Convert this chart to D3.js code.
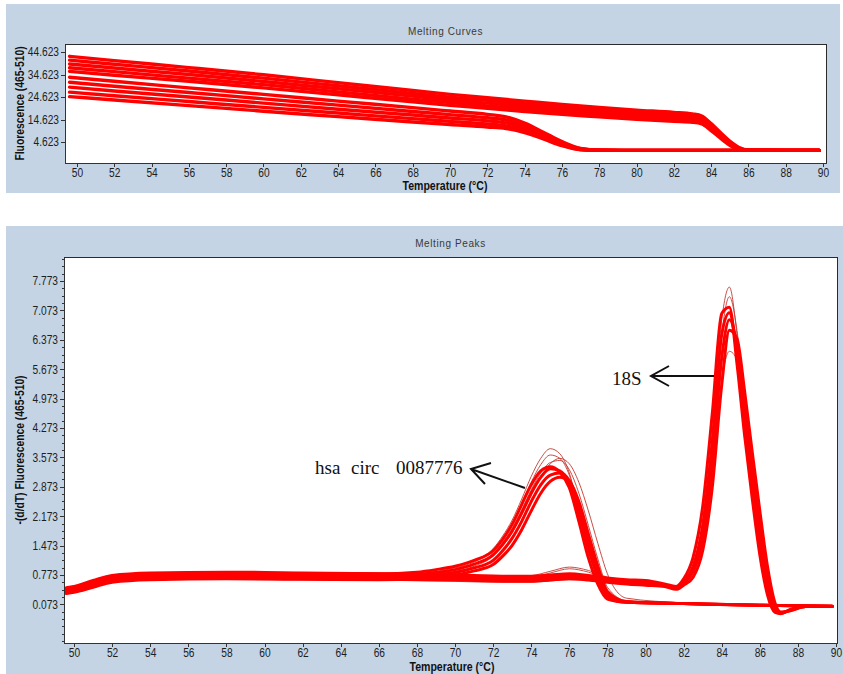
<!DOCTYPE html>
<html>
<head>
<meta charset="utf-8">
<script src="https://cdn.jsdelivr.net/npm/d3@7"></script>
<style>
  body { margin: 0; background: #fff; }
  svg { display: block; }
  .axis text { font-family: "Liberation Sans Narrow", "Arial Narrow", "Liberation Sans", sans-serif; font-size: 12px; fill: #1e1e1e; }
  .axis path, .axis line { stroke: #333; shape-rendering: crispEdges; }
  .lbl { font-family: "Liberation Sans Narrow", "Arial Narrow", "Liberation Sans", sans-serif; font-weight: bold; font-size: 12px; fill: #111; }
  .ttl { font-family: "Liberation Sans", Arial, sans-serif; font-size: 10px; fill: #3a3a3a; letter-spacing: 0.6px; }
  .note { font-family: "Liberation Serif", "Times New Roman", serif; font-size: 19px; fill: #111; }
</style>
</head>
<body>
<script>
// ---- Melting Curves (top panel) ----
const curveTicks = [4.623, 14.623, 24.623, 34.623, 44.623];
const tempTicks  = [50, 52, 54, 56, 58, 60, 62, 64, 66, 68, 70, 72, 74, 76, 78, 80, 82, 84, 86, 88, 90];

// 18S melting curves (high product Tm)
const curveTemps18S = [49.6, 52, 56, 60, 64, 68, 70, 72, 74, 76, 78, 80, 82, 83, 83.5, 84, 84.5, 85, 85.5, 86, 88, 89.8];
const curves18S = [
  [42.7, 40.8, 37.7, 34.5, 31.0, 27.5, 25.8, 24.3, 22.8, 21.3, 20.0, 18.8, 17.8, 17.1, 16.2, 12.8, 8.8, 5.0, 2.2, 1.1, 0.9, 0.9],
  [41.0, 39.2, 36.2, 33.0, 29.6, 26.2, 24.5, 23.1, 21.6, 20.2, 19.0, 17.8, 16.8, 16.2, 15.2, 11.8, 8.0, 4.4, 1.9, 1.0, 0.9, 0.9],
  [39.3, 37.5, 34.6, 31.5, 28.3, 25.0, 23.3, 21.9, 20.5, 19.1, 17.9, 16.7, 15.8, 15.2, 14.3, 11.0, 7.3, 3.9, 1.6, 1.0, 0.9, 0.9],
  [37.6, 35.9, 33.0, 30.1, 26.9, 23.7, 22.1, 20.7, 19.4, 18.0, 16.9, 15.7, 14.8, 14.3, 13.5, 10.3, 6.8, 3.5, 1.4, 0.95, 0.9, 0.9],
  [36.0, 34.3, 31.6, 28.7, 25.6, 22.5, 20.9, 19.6, 18.2, 16.9, 15.8, 14.7, 13.8, 13.4, 12.7, 9.7, 6.3, 3.2, 1.3, 0.95, 0.9, 0.9]
];

// hsa_circ_0087776 melting curves
const curveTempsCirc = [49.6, 52, 56, 60, 64, 68, 70, 72, 73, 74, 75, 76, 77, 78, 80, 89.8];
const curvesCirc = [
  [33.4, 31.6, 28.7, 25.8, 22.8, 19.9, 18.4, 16.9, 15.8, 13.0, 9.0, 4.8, 1.8, 1.0, 0.9, 0.9],
  [31.2, 29.4, 26.6, 23.8, 21.0, 18.2, 16.8, 15.4, 14.4, 11.8, 8.2, 4.3, 1.6, 1.0, 0.9, 0.9],
  [29.0, 27.3, 24.6, 21.9, 19.2, 16.6, 15.3, 14.0, 13.1, 10.8, 7.4, 3.8, 1.4, 0.95, 0.9, 0.9],
  [26.8, 25.2, 22.6, 20.0, 17.5, 15.0, 13.8, 12.6, 11.8, 9.8, 6.7, 3.4, 1.3, 0.95, 0.9, 0.9],
  [24.8, 23.3, 20.8, 18.3, 15.9, 13.5, 12.4, 11.3, 10.6, 8.8, 6.0, 3.0, 1.2, 0.95, 0.9, 0.9]
];

// ---- Melting Peaks (bottom panel) ----
const peakTicks = [0.073, 0.773, 1.473, 2.173, 2.873, 3.573, 4.273, 4.973, 5.673, 6.373, 7.073, 7.773];

const peakTempsCirc = [49.6, 50, 51, 52, 54, 58, 62, 66, 68, 69, 70, 71, 72, 72.5, 73, 73.5, 74, 74.5, 75, 75.5, 76, 76.5, 77, 77.5, 78, 79, 82, 86, 89.8];
const peaksCirc = [
  [0.45, 0.48, 0.62, 0.74, 0.80, 0.82, 0.81, 0.80, 0.84, 0.90, 0.98, 1.12, 1.35, 1.62, 1.98, 2.45, 2.92, 3.25, 3.35, 3.22, 2.85, 2.05, 1.18, 0.55, 0.20, 0.12, 0.09, 0.05, 0.03],
  [0.41, 0.44, 0.57, 0.69, 0.75, 0.77, 0.76, 0.75, 0.78, 0.83, 0.90, 1.03, 1.25, 1.50, 1.82, 2.25, 2.72, 3.10, 3.30, 3.25, 2.95, 2.25, 1.40, 0.72, 0.25, 0.12, 0.09, 0.05, 0.03],
  [0.37, 0.40, 0.52, 0.64, 0.70, 0.72, 0.71, 0.70, 0.73, 0.77, 0.83, 0.94, 1.12, 1.35, 1.65, 2.05, 2.52, 2.92, 3.15, 3.20, 3.02, 2.42, 1.60, 0.85, 0.30, 0.13, 0.09, 0.05, 0.03],
  [0.33, 0.36, 0.48, 0.60, 0.66, 0.68, 0.67, 0.66, 0.68, 0.72, 0.77, 0.87, 1.02, 1.22, 1.48, 1.85, 2.30, 2.72, 3.00, 3.10, 3.00, 2.52, 1.75, 0.98, 0.38, 0.14, 0.09, 0.05, 0.03]
];
const peaksCircOutliers = [
  [0.44, 0.47, 0.60, 0.72, 0.79, 0.81, 0.80, 0.79, 0.83, 0.89, 0.97, 1.12, 1.40, 1.70, 2.08, 2.58, 3.12, 3.55, 3.78, 3.66, 3.20, 2.30, 1.35, 0.62, 0.22, 0.12, 0.09, 0.05, 0.03],
  [0.42, 0.45, 0.58, 0.70, 0.77, 0.79, 0.78, 0.77, 0.81, 0.86, 0.94, 1.08, 1.36, 1.64, 2.00, 2.48, 2.98, 3.40, 3.63, 3.55, 3.15, 2.35, 1.45, 0.70, 0.25, 0.12, 0.09, 0.05, 0.03],
  [0.40, 0.43, 0.55, 0.67, 0.74, 0.76, 0.75, 0.74, 0.78, 0.82, 0.89, 1.02, 1.28, 1.54, 1.88, 2.32, 2.80, 3.20, 3.45, 3.50, 3.28, 2.72, 1.95, 1.15, 0.48, 0.16, 0.10, 0.05, 0.03],
  [0.38, 0.41, 0.53, 0.65, 0.72, 0.74, 0.73, 0.72, 0.76, 0.80, 0.86, 0.98, 1.22, 1.46, 1.78, 2.20, 2.68, 3.10, 3.42, 3.55, 3.42, 2.98, 2.30, 1.52, 0.80, 0.22, 0.11, 0.06, 0.03]
];

const peakTemps18S = [49.6, 50, 51, 52, 54, 58, 62, 66, 70, 72, 74, 75, 76, 77, 78, 79, 80, 81, 81.6, 82, 82.5, 83, 83.5, 84, 84.4, 84.8, 85.2, 85.6, 86, 86.4, 86.8, 87.1, 87.6, 88.4, 89.8];
const peaks18S = [
  [0.47, 0.50, 0.64, 0.76, 0.82, 0.84, 0.82, 0.80, 0.77, 0.75, 0.74, 0.77, 0.80, 0.76, 0.70, 0.66, 0.64, 0.56, 0.50, 0.68, 1.20, 2.40, 4.60, 7.00, 7.15, 5.80, 4.10, 2.60, 1.25, 0.30, -0.12, -0.15, -0.05, 0.02, 0.02],
  [0.43, 0.46, 0.60, 0.72, 0.78, 0.80, 0.78, 0.76, 0.73, 0.71, 0.70, 0.73, 0.76, 0.72, 0.66, 0.62, 0.60, 0.54, 0.48, 0.62, 0.98, 1.95, 3.95, 6.50, 7.02, 6.05, 4.45, 2.95, 1.58, 0.48, -0.07, -0.14, -0.06, 0.02, 0.02],
  [0.39, 0.42, 0.55, 0.67, 0.73, 0.75, 0.73, 0.72, 0.69, 0.67, 0.66, 0.69, 0.72, 0.69, 0.63, 0.59, 0.56, 0.52, 0.45, 0.57, 0.85, 1.62, 3.40, 5.95, 6.85, 6.25, 4.78, 3.30, 1.90, 0.68, -0.03, -0.13, -0.07, 0.02, 0.02],
  [0.35, 0.38, 0.50, 0.62, 0.68, 0.70, 0.68, 0.67, 0.65, 0.63, 0.62, 0.65, 0.68, 0.65, 0.60, 0.56, 0.53, 0.50, 0.43, 0.53, 0.72, 1.35, 2.85, 5.30, 6.60, 6.40, 5.15, 3.70, 2.30, 0.98, 0.10, -0.11, -0.08, 0.02, 0.02]
];
const peaks18SOutliers = [
  [0.46, 0.49, 0.62, 0.74, 0.80, 0.82, 0.80, 0.79, 0.76, 0.74, 0.76, 0.86, 0.96, 0.88, 0.72, 0.66, 0.63, 0.55, 0.49, 0.64, 1.00, 1.95, 4.00, 6.85, 7.63, 6.50, 4.60, 3.00, 1.55, 0.45, -0.08, -0.14, -0.05, 0.02, 0.02],
  [0.34, 0.37, 0.49, 0.60, 0.66, 0.68, 0.66, 0.65, 0.62, 0.60, 0.60, 0.63, 0.66, 0.64, 0.59, 0.55, 0.52, 0.50, 0.44, 0.55, 0.82, 1.55, 3.10, 5.40, 6.10, 5.90, 4.85, 3.50, 2.10, 0.85, 0.05, -0.10, -0.06, 0.02, 0.02],
  [0.42, 0.45, 0.58, 0.70, 0.76, 0.78, 0.76, 0.75, 0.72, 0.71, 0.73, 0.82, 0.92, 0.84, 0.68, 0.62, 0.58, 0.53, 0.47, 0.60, 0.92, 1.80, 3.70, 6.50, 7.40, 6.60, 4.90, 3.30, 1.90, 0.66, -0.02, -0.12, -0.06, 0.02, 0.02]
];

const svg = d3.select("body").append("svg")
  .attr("width", 843)
  .attr("height", 674);

// squeeze Liberation Sans into the narrow look of the instrument software
function narrow(sel, k) {
  sel.each(function () {
    const w = this.getComputedTextLength();
    d3.select(this).attr("textLength", w * k).attr("lengthAdjust", "spacingAndGlyphs");
  });
}

function panel(bg, box, title, titleY, yLabel, xDomain, yDomain, yTicks, xLabelX, xLabelY, id) {
  svg.append("rect")
    .attr("x", bg.x).attr("y", bg.y).attr("width", bg.w).attr("height", bg.h)
    .attr("fill", "#c4d4e4");

  svg.append("text").attr("class", "ttl")
    .attr("x", (box.left + box.right) / 2).attr("y", titleY)
    .attr("text-anchor", "middle").text(title);

  svg.append("rect")
    .attr("x", box.left).attr("y", box.top)
    .attr("width", box.right - box.left).attr("height", box.bottom - box.top)
    .attr("fill", "#fff").attr("stroke", "#2a2a2a").attr("stroke-width", 1)
    .attr("shape-rendering", "crispEdges");

  const x = d3.scaleLinear().domain(xDomain).range([box.left, box.right]);
  const y = d3.scaleLinear().domain(yDomain).range([box.bottom, box.top]);

  const gx = svg.append("g").attr("class", "axis")
    .attr("transform", `translate(0,${box.bottom})`)
    .call(d3.axisBottom(x).tickValues(tempTicks).tickSize(4).tickSizeOuter(0).tickPadding(1).tickFormat(d3.format("d")));
  narrow(gx.selectAll("text"), 0.85);

  const gy = svg.append("g").attr("class", "axis")
    .attr("transform", `translate(${box.left},0)`)
    .call(d3.axisLeft(y).tickValues(yTicks).tickSize(4).tickSizeOuter(0).tickPadding(2).tickFormat(d3.format(".3f")));
  narrow(gy.selectAll("text"), 0.85);

  svg.append("text").attr("class", "lbl")
    .attr("transform", `translate(24,${(box.top + box.bottom) / 2}) rotate(-90)`)
    .attr("text-anchor", "middle").text(yLabel)
    .call(narrow, 0.86);

  svg.append("text").attr("class", "lbl")
    .attr("x", xLabelX).attr("y", xLabelY)
    .attr("text-anchor", "middle").text("Temperature (\u00B0C)")
    .call(narrow, 0.88);

  svg.append("defs").append("clipPath").attr("id", "clip-" + id)
    .append("rect")
    .attr("x", box.left + 1).attr("y", box.top + 1)
    .attr("width", box.right - box.left - 2).attr("height", box.bottom - box.top - 2);

  const plot = svg.append("g").attr("clip-path", `url(#clip-${id})`);
  return {x, y, plot};
}

function drawCurves(p, temps, series, color, width) {
  const line = d3.line()
    .x((d, i) => p.x(temps[i]))
    .y(d => p.y(d))
    .curve(d3.curveMonotoneX);
  p.plot.append("g").selectAll("path")
    .data(series)
    .join("path")
    .attr("d", line)
    .attr("fill", "none")
    .attr("stroke", color)
    .attr("stroke-width", width)
    .attr("stroke-linejoin", "round")
    .attr("stroke-linecap", "round");
}

// top panel
const curvesPanel = panel({x: 6, y: 4, w: 834, h: 189}, {left: 65, top: 44, right: 826, bottom: 163},
  "Melting Curves", 35, "Fluorescence (465-510)",
  [49.357, 90.16], [-4.71, 48.18], curveTicks, 445, 190, "curves");
drawCurves(curvesPanel, curveTempsCirc, curvesCirc, "#ff0000", 3.4);
drawCurves(curvesPanel, curveTemps18S, curves18S, "#ff0000", 3.4);

// bottom panel
const peaksPanel = panel({x: 6, y: 226, w: 837, h: 448}, {left: 64, top: 257, right: 837, bottom: 643},
  "Melting Peaks", 247, "-(d/dT) Fluorescence (465-510)",
  [49.475, 90.05], [-0.848, 8.346], peakTicks, 452, 671, "peaks");

// minor ticks on the peak axis
svg.append("g").attr("class", "axis")
  .attr("transform", "translate(64,0)")
  .call(d3.axisLeft(peaksPanel.y).tickValues(d3.range(-0.802, 8.35, 0.175)).tickSize(2).tickSizeOuter(0).tickFormat(""))
  .select(".domain").remove();

drawCurves(peaksPanel, peakTempsCirc, peaksCircOutliers, "#c23a32", 0.9);
drawCurves(peaksPanel, peakTemps18S, peaks18SOutliers, "#c23a32", 0.9);
drawCurves(peaksPanel, peakTemps18S, peaks18S, "#ff0000", 3);
drawCurves(peaksPanel, peakTempsCirc, peaksCirc, "#ff0000", 3);

// annotations
const ann = svg.append("g");
ann.append("text").attr("class", "note").attr("x", 612).attr("y", 385).text("18S");
ann.append("path")
  .attr("d", "M714,376 L651,376 M669,366 L651,376 L669,386")
  .attr("fill", "none").attr("stroke", "#111").attr("stroke-width", 2);

ann.append("text").attr("class", "note").attr("x", 315).attr("y", 474).text("hsa");
ann.append("text").attr("class", "note").attr("x", 351).attr("y", 474).text("circ");
ann.append("text").attr("class", "note").attr("x", 396).attr("y", 474).text("0087776");
ann.append("path")
  .attr("d", "M525,488 L471,469 M491,463 L471,469 L485,484")
  .attr("fill", "none").attr("stroke", "#111").attr("stroke-width", 2);
</script>
</body>
</html>
